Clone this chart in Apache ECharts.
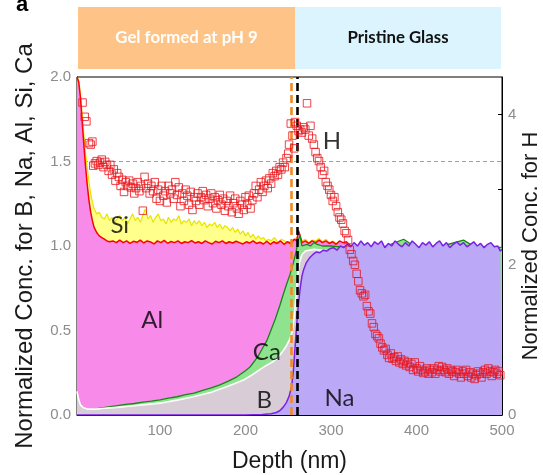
<!DOCTYPE html>
<html>
<head>
<meta charset="utf-8">
<script src="https://cdn.jsdelivr.net/npm/echarts@6/dist/echarts.min.js"></script>
<style>
  html, body { margin: 0; padding: 0; background: #fff; }
  #chart { width: 543px; height: 475px; }
</style>
</head>
<body>
<div id="chart"></div>
<script>
// Depth profiles, [depth (nm), normalized concentration]
const siProfile = [[3,2.0],[5,1.98],[7,1.9],[9,1.78],[11,1.66],[13,1.55],[15,1.46],[17,1.38],[19,1.31],[21,1.26],[23,1.22],[26,1.19],[29,1.2],[32,1.17],[35,1.16],[38,1.19],[41,1.15],[44,1.17],[47,1.14],[50,1.16],[53,1.18],[56,1.15],[59,1.17],[62,1.13],[65,1.16],[68,1.19],[71,1.15],[74,1.17],[77,1.14],[80,1.18],[83,1.22],[86,1.16],[89,1.18],[92,1.14],[95,1.17],[98,1.19],[101,1.15],[104,1.16],[107,1.13],[110,1.17],[113,1.14],[116,1.16],[119,1.15],[122,1.18],[125,1.13],[128,1.15],[131,1.14],[134,1.16],[137,1.12],[140,1.15],[143,1.13],[146,1.15],[149,1.12],[152,1.14],[155,1.11],[158,1.13],[161,1.12],[164,1.14],[167,1.11],[170,1.13],[173,1.1],[176,1.12],[179,1.11],[182,1.09],[185,1.11],[188,1.08],[191,1.1],[194,1.07],[197,1.09],[200,1.06],[203,1.08],[206,1.05],[209,1.07],[212,1.04],[215,1.06],[218,1.04],[221,1.05],[224,1.03],[227,1.04],[230,1.03],[234,1.05],[238,1.02],[242,1.04],[246,1.03],[250,1.02],[254,1.03],[258,1.04],[262,1.06],[266,1.03],[270,1.04],[274,1.02],[278,1.035],[282,1.03],[286,1.045],[290,1.025],[294,1.04],[298,1.02],[302,1.03],[306,1.015],[310,1.025],[314,1.0],[320,0.99]];

const alProfile = [[3,2.0],[5,1.97],[7,1.88],[9,1.74],[11,1.6],[13,1.47],[15,1.36],[17,1.27],[19,1.2],[21,1.15],[23,1.11],[26,1.08],[29,1.06],[32,1.05],[35,1.04],[38,1.03],[41,1.025],[45,1.03],[49,1.02],[53,1.035],[57,1.02],[61,1.03],[65,1.015],[69,1.028],[73,1.022],[77,1.035],[81,1.018],[85,1.03],[89,1.024],[93,1.012],[97,1.03],[101,1.02],[105,1.033],[109,1.016],[113,1.027],[117,1.02],[121,1.03],[125,1.015],[129,1.025],[133,1.02],[137,1.032],[141,1.018],[145,1.025],[149,1.015],[153,1.03],[157,1.02],[161,1.012],[165,1.028],[169,1.02],[173,1.03],[177,1.015],[181,1.025],[185,1.018],[189,1.028],[193,1.02],[197,1.012],[201,1.025],[205,1.018],[209,1.03],[213,1.015],[217,1.022],[221,1.012],[225,1.028],[229,1.01],[233,1.025],[237,1.015],[241,1.03],[245,1.01],[249,1.025],[253,1.015],[257,1.04],[260,1.03],[262,1.09],[264,1.06],[266,1.02],[270,1.03],[274,1.015],[278,1.03],[282,1.02],[286,1.035],[290,1.02],[294,1.03],[298,1.015],[302,1.025],[306,1.01],[310,1.03],[314,1.02],[318,1.025],[322,1.005],[326,1.0],[330,0.99],[334,0.98]];

const caProfile = [[3,0.02],[12,0.025],[20,0.03],[30,0.04],[40,0.048],[50,0.055],[60,0.063],[70,0.068],[80,0.076],[90,0.082],[100,0.09],[110,0.1],[120,0.108],[130,0.12],[140,0.13],[150,0.146],[160,0.16],[170,0.178],[180,0.2],[190,0.226],[200,0.262],[205,0.282],[210,0.315],[215,0.35],[220,0.395],[225,0.44],[230,0.505],[235,0.57],[240,0.645],[244,0.71],[248,0.772],[252,0.83],[256,0.9],[259,0.96],[262,1.04],[264,1.06],[266,1.0],[268,0.99],[272,1.01],[276,1.0],[280,1.02],[284,1.01],[290,1.0],[300,1.0],[320,0.99],[340,1.0],[360,0.99],[385,1.04],[400,0.99],[430,1.0],[455,1.035],[470,0.99],[485,1.0],[500,0.99]];

const bProfile = [[3,0.14],[5,0.09],[7,0.06],[10,0.045],[15,0.035],[25,0.035],[35,0.04],[50,0.045],[61,0.05],[80,0.06],[100,0.07],[120,0.088],[139,0.108],[160,0.135],[178,0.167],[197,0.205],[207,0.235],[217,0.27],[225,0.295],[232,0.315],[238,0.34],[244,0.38],[248,0.41],[252,0.45],[255,0.5],[257,0.58],[259,0.7],[261,0.82],[263,0.9],[266,0.95],[270,0.97],[280,0.98],[300,0.97]];

const naProfile = [[3,0],[200,0],[220,0.003],[230,0.008],[236,0.015],[240,0.025],[244,0.045],[248,0.075],[251,0.11],[254,0.17],[256,0.26],[258,0.4],[260,0.54],[262,0.66],[264,0.75],[266,0.82],[268,0.86],[271,0.9],[275,0.93],[279,0.95],[283,0.965],[287,0.96],[291,0.975],[295,0.97],[299,0.985],[303,0.99],[307,0.975],[311,1.0],[315,0.99],[319,1.01],[323,0.995],[327,1.02],[331,1.0],[335,1.03],[339,1.005],[343,1.02],[347,0.995],[351,1.025],[355,1.01],[359,1.03],[363,0.99],[367,1.015],[371,1.0],[375,1.03],[379,1.01],[383,0.995],[387,1.02],[391,1.0],[395,1.03],[399,1.01],[403,0.99],[407,1.02],[411,1.005],[415,1.025],[419,0.995],[423,1.015],[427,1.03],[431,1.0],[435,1.02],[439,0.99],[443,1.01],[447,1.025],[451,1.005],[455,1.02],[459,0.995],[463,1.01],[467,1.025],[471,1.0],[475,1.015],[479,0.99],[483,1.01],[487,1.02],[491,0.995],[495,1.0],[498,0.97],[500,0.98]];

// Hydrogen, plotted against the right-hand axis
const hProfile = [[9.5,4.16],[12,3.97],[14,3.91],[17,3.62],[19,3.6],[21,3.64],[22,3.32],[24,3.35],[26,3.38],[28,3.33],[30,3.36],[32,3.4],[34,3.3],[36,3.37],[38,3.33],[40,3.25],[42,3.33],[44,3.2],[46,3.27],[48,3.12],[50,3.22],[52,3.17],[54,3.05],[56,3.13],[58,2.97],[60,3.1],[62,3.05],[64,3.12],[66,3.03],[68,3.08],[70,2.95],[72,3.02],[74,3.1],[76,2.98],[78,3.05],[80,2.72],[82,3.17],[84,3.02],[86,3.08],[88,2.95],[90,3.05],[92,2.98],[94,3.1],[96,2.88],[98,3.0],[100,2.85],[102,3.05],[104,2.92],[106,2.98],[108,2.83],[110,3.05],[112,2.95],[114,3.0],[116,2.88],[118,3.1],[120,2.93],[122,3.03],[124,2.78],[126,2.95],[128,2.85],[130,3.0],[132,2.92],[134,2.8],[136,2.97],[138,2.73],[140,2.9],[142,2.85],[144,2.95],[146,2.8],[148,2.9],[150,2.98],[152,2.86],[154,2.93],[156,2.78],[158,2.88],[160,2.95],[162,2.82],[164,2.9],[166,2.75],[168,2.86],[170,2.93],[172,2.8],[174,2.88],[176,2.72],[178,2.85],[180,2.78],[182,2.92],[184,2.7],[186,2.82],[188,2.88],[190,2.75],[192,2.68],[194,2.85],[196,2.8],[198,2.73],[200,2.9],[202,2.8],[204,2.92],[206,2.75],[208,2.86],[210,2.95],[212,3.05],[214,2.9],[216,3.0],[218,3.1],[220,2.97],[222,3.05],[224,3.12],[226,3.02],[228,3.15],[230,3.08],[232,3.22],[234,3.18],[236,3.25],[238,3.2],[240,3.3],[242,3.27],[244,3.36],[246,3.3],[248,3.42],[250,3.48],[251,3.6],[253,3.88],[255,3.72],[257,3.55],[258,3.9],[260,3.85],[262,3.78],[264,3.8],[266,3.76],[268,3.83],[270,3.8],[272,4.15],[274,3.72],[276,3.85],[278,3.68],[280,3.6],[282,3.5],[284,3.42],[286,3.38],[288,3.3],[290,3.2],[292,3.25],[294,3.1],[296,3.05],[298,3.0],[300,2.93],[302,2.85],[304,2.9],[306,2.78],[308,2.7],[310,2.63],[312,2.6],[314,2.55],[316,2.45],[318,2.42],[320,2.33],[322,2.2],[324,2.14],[326,2.05],[328,2.0],[330,1.88],[332,1.78],[334,1.66],[336,1.62],[338,1.58],[340,1.6],[342,1.45],[344,1.38],[346,1.35],[348,1.22],[350,1.17],[352,1.08],[354,1.05],[356,1.02],[358,0.95],[360,0.9],[362,0.86],[364,0.88],[366,0.8],[368,0.76],[370,0.82],[372,0.75],[374,0.77],[376,0.72],[378,0.78],[380,0.7],[382,0.74],[384,0.68],[386,0.72],[388,0.66],[390,0.7],[392,0.64],[394,0.68],[396,0.6],[398,0.7],[400,0.62],[402,0.58],[404,0.65],[406,0.6],[408,0.56],[410,0.58],[412,0.62],[414,0.55],[416,0.6],[418,0.57],[420,0.62],[422,0.55],[424,0.6],[426,0.65],[428,0.58],[430,0.64],[432,0.6],[434,0.57],[436,0.62],[438,0.55],[440,0.6],[442,0.58],[444,0.52],[446,0.57],[448,0.6],[450,0.55],[452,0.5],[454,0.58],[456,0.55],[458,0.6],[460,0.52],[462,0.57],[464,0.5],[466,0.55],[468,0.48],[470,0.53],[472,0.58],[474,0.55],[476,0.5],[478,0.57],[480,0.6],[482,0.55],[484,0.62],[486,0.58],[488,0.52],[490,0.57],[492,0.6],[494,0.55],[496,0.58],[498,0.53]];

// Axis ticks and reference lines
const depthTicks = [100, 200, 300, 400, 500];
const hLabelTicks = [0, 2, 4];
const hMinorTicks = [0, 1, 2, 3, 4];
const gelBoundary = 254;      // orange dashed line
const glassBoundary = 260;    // black dashed line
const guideLevel = 1.5;       // grey dashed guide

// Element labels placed in data space [depth, conc]
const elementNames = ['Si', 'Al', 'Ca', 'B', 'Na', 'H'];
const elementSpots = [[53, 1.12], [91, 0.56], [225, 0.37], [222, 0.09], [310, 0.1], [301, 1.62]];

const chart = echarts.init(document.getElementById('chart'), null, { renderer: 'canvas' });

const tickFont = { color: '#8c8c8c', fontSize: 15, fontFamily: 'Liberation Sans' };
const titleFont = { color: '#1a1a1a', fontFamily: 'Liberation Sans' };

function area(name, data, lineColor, fillColor, width, z) {
  return {
    name, type: 'line', data, yAxisIndex: 0, z,
    symbol: 'none', smooth: false, animation: false,
    lineStyle: { color: lineColor, width },
    areaStyle: { color: fillColor, opacity: 1 }
  };
}

chart.setOption({
  animation: false,
  backgroundColor: '#fff',
  grid: {
    left: 77, right: 41, top: 77, bottom: 60,
    outerBoundsMode: 'none', containLabel: false,
    show: true, borderColor: '#000', borderWidth: 1, backgroundColor: 'transparent'
  },
  xAxis: {
    type: 'value', min: 3, max: 500,
    name: 'Depth (nm)', nameLocation: 'middle', nameGap: 35, nameMoveOverlap: false,
    nameTextStyle: Object.assign({ fontSize: 23 }, titleFont),
    axisLine: { show: true, lineStyle: { color: '#000', width: 1 } },
    axisTick: { show: false },
    axisLabel: Object.assign({ customValues: depthTicks, margin: 8 }, tickFont),
    splitLine: { show: false }
  },
  yAxis: [
    {
      type: 'value', min: 0, max: 2, interval: 0.5, position: 'left',
      name: 'Normalized Conc. for B, Na, Al, Si, Ca', nameLocation: 'middle', nameGap: 40, nameMoveOverlap: false,
      nameTextStyle: Object.assign({ fontSize: 24 }, titleFont),
      axisLine: { show: true, lineStyle: { color: '#000', width: 1 } },
      axisTick: { show: false },
      axisLabel: Object.assign({ formatter: v => v.toFixed(1), margin: 6 }, tickFont),
      splitLine: { show: false }
    },
    {
      type: 'value', min: 0, max: 4.5, position: 'right',
      name: 'Normalized Conc. for H', nameLocation: 'middle', nameGap: 18, nameMoveOverlap: false,
      nameTextStyle: Object.assign({ fontSize: 22 }, titleFont),
      axisLine: { show: true, lineStyle: { color: '#000', width: 1 } },
      axisTick: { show: true, customValues: hMinorTicks, inside: true, length: 4, lineStyle: { color: '#000' } },
      axisLabel: Object.assign({ customValues: hLabelTicks, margin: 6 }, tickFont),
      splitLine: { show: false }
    }
  ],
  series: [
    Object.assign(area('Si', siProfile, '#e5e500', '#ffff8c', 1.2, 2), {
      markLine: {
        silent: true, symbol: 'none', z: 1,
        label: { show: false },
        lineStyle: { color: '#a0a0a0', type: [4, 3], width: 1 },
        data: [{ yAxis: guideLevel }]
      }
    }),
    area('Al', alProfile, '#ff0000', '#f88ae9', 1.5, 3),
    area('Ca', caProfile, '#138a13', '#8fe38f', 1.3, 4),
    area('B', bProfile, '#ffffff', '#d8cdd7', 1.6, 5),
    Object.assign(area('Na', naProfile, '#7b20e6', '#bba8f7', 1.5, 6), {
      markLine: {
        silent: true, symbol: 'none', z: 8,
        label: { show: false },
        data: [
          { xAxis: gelBoundary, lineStyle: { color: '#f08a24', type: [8, 4], width: 2.6 } },
          { xAxis: glassBoundary, lineStyle: { color: '#000', type: [8, 4], width: 2.6 } }
        ]
      }
    }),
    {
      name: 'H', type: 'scatter', yAxisIndex: 1, z: 10, data: hProfile,
      symbol: 'rect', symbolSize: 7.5,
      itemStyle: { color: 'rgba(0,0,0,0)', borderColor: '#e8141a', borderWidth: 1 }
    },
    {
      name: 'labels', type: 'scatter', yAxisIndex: 0, z: 11, silent: true,
      symbolSize: 0,
      data: elementSpots.map((p, i) => ({ value: p, name: elementNames[i] })),
      label: {
        show: true, position: 'inside', formatter: p => p.name,
        color: '#000', fontSize: 24, fontFamily: 'Lato'
      }
    }
  ],
  graphic: [
    { type: 'rect', shape: { x: 78, y: 7, width: 217, height: 62 }, style: { fill: '#fdc387' }, silent: true },
    { type: 'rect', shape: { x: 295, y: 7, width: 206, height: 62 }, style: { fill: '#dbf4fd' }, silent: true },
    { type: 'text', x: 186.5, y: 38, style: { text: 'Gel formed at pH 9', fill: '#ffffff', font: 'bold 16.8px Lato', align: 'center', verticalAlign: 'middle' }, silent: true },
    { type: 'text', x: 398, y: 38, style: { text: 'Pristine Glass', fill: '#111111', font: 'bold 16.8px Lato', align: 'center', verticalAlign: 'middle' }, silent: true },
    { type: 'text', x: 16, y: 16, style: { text: 'a', fill: '#000', font: 'bold 22px Liberation Sans', align: 'left', verticalAlign: 'bottom' }, silent: true }
  ]
});
</script>
</body>
</html>
